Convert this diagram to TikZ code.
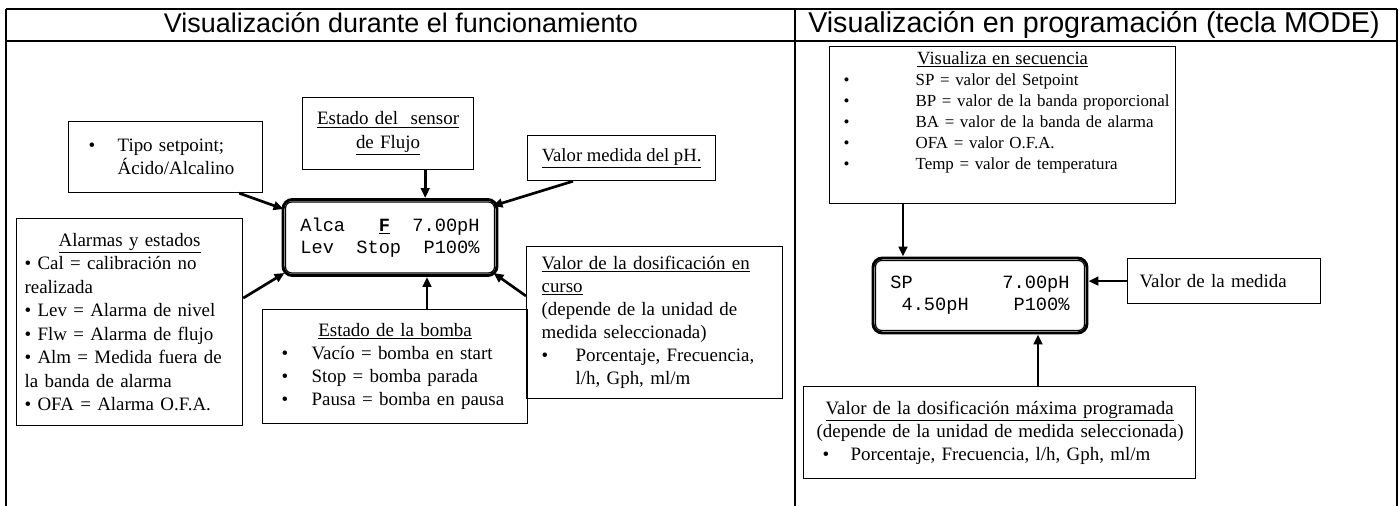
\documentclass[tikz,border=0pt]{standalone}
\usepackage{fontspec}
\setmainfont{Liberation Serif}
\setsansfont{Liberation Sans}
\setmonofont{Liberation Mono}
\usetikzlibrary{arrows.meta,positioning}
\newlength\px
\setlength\px{0.75pt}
\hyphenpenalty=10000
\tikzset{
    frameline/.style={line width=1.8pt},
    colTitle/.style={font=\sffamily\fontsize{21}{24}\selectfont, inner sep=0pt, anchor=base},
    callout/.style={draw, line width=0.9pt, anchor=north west, align=left,
                    inner ysep=2pt, font=\fontsize{14.2}{17.3}\selectfont},
    lcd/.style={draw, line width=2.2pt, rounded corners=7pt,
                minimum width=214\px, minimum height=76\px, align=left,
                inner sep=0pt, font=\ttfamily\fontsize{14}{16.5}\selectfont},
    lcdInner/.style={line width=0.9pt, rounded corners=4.5pt},
    pointer/.style={line width=2pt, -{Triangle[length=7.5pt, width=6.5pt]}},
}
\newcommand{\bul}[1]{\makebox[#1][l]{\textbullet}}
\newcommand{\cttl}[1]{\makebox[\linewidth][c]{\underline{#1}}}

\begin{document}
\begin{tikzpicture}[x=0.75pt,y=-0.75pt]
\useasboundingbox (0,0) rectangle (1400,506);

% ---------------- table frame ----------------
\draw[frameline] (6,9) -- (1397,9);
\draw[frameline] (6,41) -- (1397,41);
\draw[frameline] (6,9) -- (6,506);
\draw[frameline] (795,9) -- (795,506);
\draw[frameline] (1397,9) -- (1397,506);

\node[colTitle, font=\sffamily\fontsize{20.2}{24}\selectfont] (titleRun) at (401,33)
     {Visualización durante el funcionamiento};
\node[colTitle, font=\sffamily\fontsize{21.5}{24}\selectfont] (titleProg) at (1094,33)
     {Visualización en programación (tecla MODE)};

% ---------------- running display ----------------
\node[lcd] (lcdL) at (390,237.5)
     {Alca~~~\underline{\textbf{F}}~~7.00pH\\Lev~~Stop~~P100\%};
\draw[lcdInner] ([shift={(4,4)}]lcdL.north west) rectangle ([shift={(-4,-4)}]lcdL.south east);

\node[callout, minimum width=194\px, minimum height=71\px,
      inner xsep=20\px, text width=154\px] (tipoBox) at (68,121)
     {\bul{29\px}Tipo setpoint;\\\hspace*{29\px}Ácido/Alcalino};

\node[callout, minimum width=171\px, minimum height=72\px, align=center,
      text width=160\px, inner xsep=5.5\px, font=\fontsize{14.2}{18}\selectfont] (sensorBox) at (302,97)
     {\underline{Estado del\ \ sensor}\\\underline{de Flujo}};

\node[callout, minimum width=188\px, minimum height=45\px, align=center,
      font=\fontsize{14}{16}\selectfont] (phBox) at (527,135)
     {\underline{Valor medida del pH.}};

\node[callout, minimum width=226\px, minimum height=207\px,
      inner xsep=8\px, text width=210\px, font=\fontsize{14.2}{17.6}\selectfont] (alarmBox) at (16,218)
     {\cttl{Alarmas y estados}\\
      \textbullet{} Cal = calibración no\\
      realizada\\
      \textbullet{} Lev = Alarma de nivel\\
      \textbullet{} Flw = Alarma de flujo\\
      \textbullet{} Alm = Medida fuera de\\
      la banda de alarma\\
      \textbullet{} OFA = Alarma O.F.A.};

\node[callout, minimum width=265\px, minimum height=114\px,
      inner xsep=19\px, text width=227\px] (bombaBox) at (262,309)
     {\cttl{Estado de la bomba}\\
      \bul{30\px}Vacío = bomba en start\\
      \bul{30\px}Stop = bomba parada\\
      \bul{30\px}Pausa = bomba en pausa};

\node[callout, minimum width=256\px, minimum height=152\px,
      inner xsep=15\px, text width=226\px] (doseBox) at (526,246)
     {\underline{Valor de la dosificación en}\\
      \underline{curso}\\
      (depende de la unidad de\\
      medida seleccionada)\\
      \bul{34\px}Porcentaje, Frecuencia,\\
      \hspace*{34\px}l/h, Gph, ml/m};

% callouts -> running display
\draw[pointer] ([shift={(-24,0)}]tipoBox.south east) -- ([shift={(2,11)}]lcdL.north west);
\coordinate (sensorFoot) at ([shift={(-49,0)}]sensorBox.south east);
\draw[pointer] (sensorFoot) -- (sensorFoot |- lcdL.north);
\draw[pointer] ([shift={(46,0)}]phBox.south west) -- ([shift={(-6,8)}]lcdL.north east);
\draw[pointer] ([shift={(0,-24)}]alarmBox.east) -- ([shift={(3,-4)}]lcdL.south west);
\coordinate (bombaHead) at ([shift={(165,0)}]bombaBox.north west);
\draw[pointer] (bombaHead) -- (bombaHead |- lcdL.south);
\draw[pointer] ([shift={(0,50)}]doseBox.north west) -- ([shift={(-5,-4)}]lcdL.south east);

% ---------------- programming display ----------------
\node[lcd, minimum height=75\px] (lcdR) at (980,295.5)
     {SP~~~~~~~~7.00pH\\~4.50pH~~~~P100\%};
\draw[lcdInner] ([shift={(4,4)}]lcdR.north west) rectangle ([shift={(-4,-4)}]lcdR.south east);

\node[callout, minimum width=346\px, minimum height=157\px,
      inner xsep=6\px, text width=334\px, font=\fontsize{12.7}{15.8}\selectfont] (seqBox) at (829,46)
     {{\fontsize{14}{15.8}\selectfont\cttl{Visualiza en secuencia}}\\
      \hspace*{8\px}\bul{72\px}\mbox{SP = valor del Setpoint}\\
      \hspace*{8\px}\bul{72\px}\mbox{BP = valor de la banda proporcional}\\
      \hspace*{8\px}\bul{72\px}\mbox{BA = valor de la banda de alarma}\\
      \hspace*{8\px}\bul{72\px}\mbox{OFA = valor O.F.A.}\\
      \hspace*{8\px}\bul{72\px}\mbox{Temp = valor de temperatura}\\[8\px]\mbox{}};

\node[callout, minimum width=193\px, minimum height=45\px,
      inner xsep=12\px, text width=169\px, font=\fontsize{14.2}{17}\selectfont] (medidaBox) at (1127,258)
     {Valor de la medida};

\node[callout, minimum width=392\px, minimum height=92\px,
      inner xsep=6\px, text width=380\px] (maxBox) at (803,386)
     {\cttl{Valor de la dosificación máxima programada}\\
      \hspace*{7\px}\mbox{(depende de la unidad de medida seleccionada)}\\
      \hspace*{13\px}\bul{28\px}Porcentaje, Frecuencia, l/h, Gph, ml/m};

\coordinate (seqFoot) at ([shift={(74,0)}]seqBox.south west);
\draw[pointer] (seqFoot) -- (seqFoot |- lcdR.north);
\draw[pointer] (medidaBox.west) -- (lcdR.east |- medidaBox.west);
\coordinate (maxHead) at ([shift={(235,0)}]maxBox.north west);
\draw[pointer] (maxHead) -- (maxHead |- lcdR.south);

\end{tikzpicture}
\end{document}
